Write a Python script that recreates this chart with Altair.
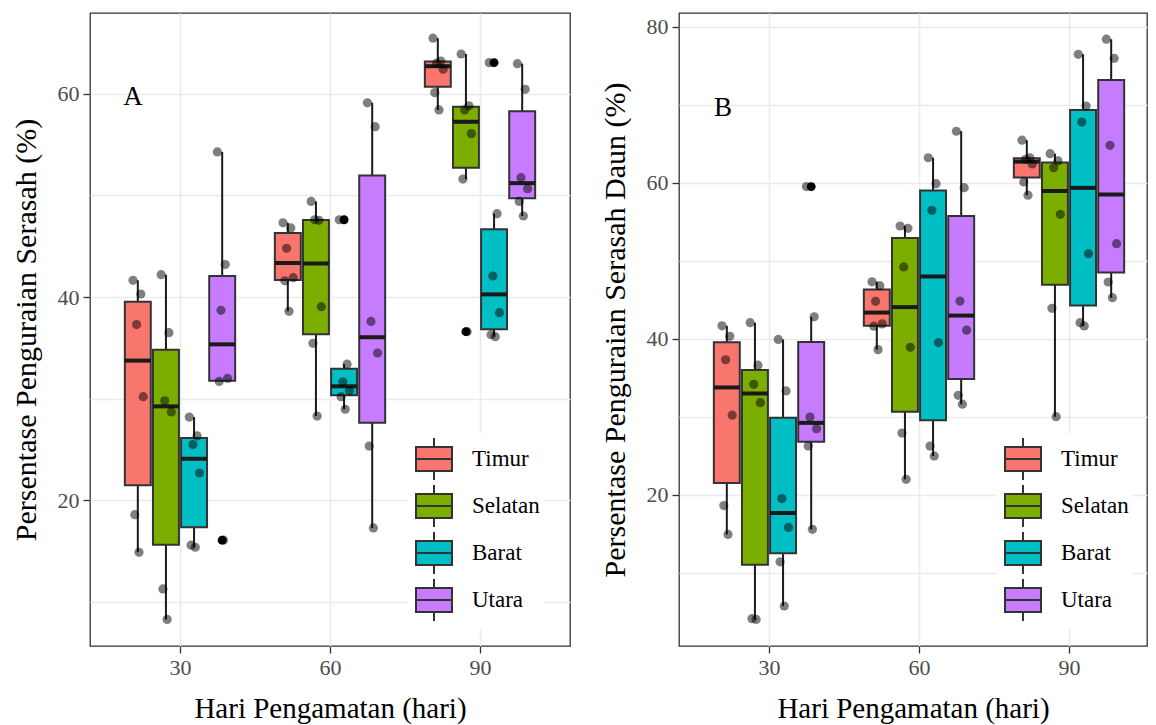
import altair as alt
import pandas as pd
import numpy as np

# ---------------- data ----------------
DAYS = ["30", "60", "90"]
DIRECTIONS = ["Timur", "Selatan", "Barat", "Utara"]
COLORS = ["#F8766D", "#7CAE00", "#00BFC4", "#C77CFF"]

# Panel A: Persentase Penguraian Serasah (%) ; one list per day (30, 60, 90)
A_TIMUR = [[41.65, 40.3, 37.3, 30.2, 18.6, 14.9],
           [47.3, 46.8, 44.8, 41.9, 41.6, 38.6],
           [65.45, 63.2, 63.0, 62.4, 60.1, 58.4]]
A_SELATAN = [[42.2, 36.5, 29.8, 28.7, 11.3, 8.3],
             [49.4, 47.55, 47.6, 39.05, 35.45, 28.3],
             [63.9, 58.8, 58.4, 56.07, 51.6, 36.6]]
A_BARAT = [[28.2, 26.35, 25.5, 22.7, 15.6, 15.4],
           [47.6, 33.4, 31.65, 30.8, 30.2, 28.97],
           [63.05, 48.2, 42.07, 38.46, 36.3, 36.1]]
A_UTARA = [[54.27, 43.2, 38.7, 32.0, 31.7, 16.1],
           [59.1, 56.75, 37.6, 34.5, 25.35, 17.3],
           [62.95, 60.43, 51.74, 50.66, 49.4, 47.97]]

# Panel B: Persentase Penguraian Serasah Daun (%)
B_TIMUR = [[41.65, 40.3, 37.3, 30.2, 18.6, 14.9],
           [47.3, 46.8, 44.8, 41.9, 41.6, 38.6],
           [65.45, 63.2, 63.0, 62.4, 60.1, 58.4]]
B_SELATAN = [[42.05, 36.6, 34.15, 31.8, 4.1, 4.0],
             [54.45, 54.15, 49.2, 38.9, 27.9, 21.97],
             [63.72, 62.8, 61.92, 55.95, 43.9, 30.0]]
B_BARAT = [[39.9, 33.3, 19.5, 15.8, 11.4, 5.73],
           [63.2, 59.87, 56.46, 39.5, 26.24, 24.96],
           [76.46, 69.83, 67.78, 50.9, 42.05, 41.63]]
B_UTARA = [[59.5, 42.8, 29.96, 28.46, 26.24, 15.56],
           [66.6, 59.36, 44.83, 41.1, 32.74, 31.6],
           [78.4, 75.95, 64.8, 52.18, 47.27, 45.26]]

# horizontal jitter pattern (style only, fraction of jitter width)
JITTER = [-0.8, 0.5, -0.2, 0.9, -0.5, 0.2]

FONT = "Liberation Serif"
LEGEND_PATH = ("M-0.857,-0.571H0.857V0.571H-0.857Z M-0.857,0H0.857 "
               "M0,-0.571V-1 M0,0.571V1")


def build_tables(groups):
    pts, boxes, outs = [], [], []
    for di, (dname, series) in enumerate(zip(DIRECTIONS, groups)):
        for ki, vals in enumerate(series):
            v = np.array(vals, dtype=float)
            q1, med, q3 = np.percentile(v, [25, 50, 75])
            iqr = q3 - q1
            lo_f, hi_f = q1 - 1.5 * iqr, q3 + 1.5 * iqr
            inside = v[(v >= lo_f) & (v <= hi_f)]
            boxes.append(dict(day_i=ki + 1, dir_i=di, direction=dname,
                              q1=q1, med=med, q3=q3,
                              lo=inside.min(), hi=inside.max()))
            for j, val in enumerate(vals):
                pts.append(dict(day_i=ki + 1, dir_i=di, direction=dname,
                                value=val, jit=JITTER[j % len(JITTER)]))
                if val < lo_f or val > hi_f:
                    outs.append(dict(day_i=ki + 1, dir_i=di, direction=dname, value=val))
    return pd.DataFrame(pts), pd.DataFrame(boxes), pd.DataFrame(outs)


def panel(groups, ytitle, ydomain, yvalues, label, label_xy, width, xdomain):
    pts, boxes, outs = build_tables(groups)
    xc = "datum.day_i + (datum.dir_i - 1.5) * 0.1875"

    xscale = alt.Scale(domain=xdomain, nice=False, zero=False)
    xaxis = alt.Axis(values=[1, 2, 3], title="Hari Pengamatan (hari)",
                     labelExpr="['30','60','90'][datum.value - 1]",
                     grid=True, tickSize=7, labelPadding=4, titlePadding=16,
                     titleFontSize=29)
    yscale = alt.Scale(domain=ydomain, nice=False, zero=False)
    yaxis = alt.Axis(values=yvalues, title=ytitle, grid=True,
                     labelExpr="datum.value % 20 == 0 ? datum.label : ''",
                     tickOpacity={"condition": {"test": "datum.value % 20 == 0", "value": 1},
                                  "value": 0},
                     tickSize=7, labelPadding=4, titlePadding=16,
                     titleFontSize=30)

    def X(f):
        return alt.X(f, type="quantitative", scale=xscale, axis=xaxis)

    def Y(f):
        return alt.Y(f, type="quantitative", scale=yscale, axis=yaxis)

    bbase = alt.Chart(boxes).transform_calculate(
        xc=xc, xl=f"{xc} - 0.0865", xr=f"{xc} + 0.0865")

    whisk = bbase.mark_rule(color="#1a1a1a", strokeWidth=2).encode(
        x=X("xc"), y=Y("lo"), y2="hi:Q")
    box = bbase.mark_rect(stroke="#333333", strokeWidth=2).encode(
        x=X("xl"), x2="xr:Q", y=Y("q1"), y2="q3:Q",
        fill=alt.Fill("direction:N",
                      scale=alt.Scale(domain=DIRECTIONS, range=COLORS),
                      sort=DIRECTIONS,
                      legend=alt.Legend(
                          title=None, orient="none", legendX=318, legendY=420,
                          symbolType=LEGEND_PATH, symbolSize=1764,
                          symbolStrokeColor="#333333", symbolStrokeWidth=2,
                          symbolOpacity=1,
                          labelFont=FONT, labelFontSize=23, labelColor="black",
                          labelOffset=16, rowPadding=-4, fillColor="white",
                          padding=4)))
    median = bbase.mark_rule(color="#1a1a1a", strokeWidth=4).encode(
        x=X("xl"), x2="xr:Q", y=Y("med"))
    outl = alt.Chart(outs).transform_calculate(xc=xc).mark_circle(
        color="black", opacity=1, size=80).encode(x=X("xc"), y=Y("value"))
    jit = alt.Chart(pts).transform_calculate(
        xj=f"{xc} + datum.jit * 0.04").mark_circle(
        color="black", opacity=0.5, size=85).encode(x=X("xj"), y=Y("value"))
    txt = alt.Chart(pd.DataFrame({"t": [label]})).mark_text(
        font=FONT, fontSize=27, color="black").encode(
        text="t:N", x=alt.value(label_xy[0]), y=alt.value(label_xy[1]))

    return alt.layer(whisk, box, median, outl, jit, txt).properties(
        width=width, height=633)


pA = panel([A_TIMUR, A_SELATAN, A_BARAT, A_UTARA],
           "Persentase Penguraian Serasah (%)", [5.69, 67.93],
           [10, 20, 30, 40, 50, 60], "A", (43, 84), 480, [0.4, 3.6])
pB = panel([B_TIMUR, B_SELATAN, B_BARAT, B_UTARA],
           "Persentase Penguraian Serasah Daun (%)", [0.6, 81.76],
           [10, 20, 30, 40, 50, 60, 70, 80], "B", (44, 95), 468, [0.4, 3.52])

chart = alt.hconcat(pA, pB, spacing=28).resolve_scale(
    x="independent", y="independent", fill="independent"
).resolve_legend(fill="independent").properties(
    padding={"left": 2, "top": 4, "right": 0, "bottom": 0}
).configure_view(
    stroke="#333333", strokeWidth=1.3
).configure_axis(
    domain=False, tickColor="#333333", tickWidth=1.3,
    gridColor="#EBEBEB", gridWidth=1.6,
    labelFont=FONT, labelFontSize=22, labelColor="#4D4D4D",
    titleFont=FONT, titleFontSize=28, titleFontWeight="normal", titleColor="black"
)

chart.save("out.html", embed_options={"renderer": "svg", "actions": False})
